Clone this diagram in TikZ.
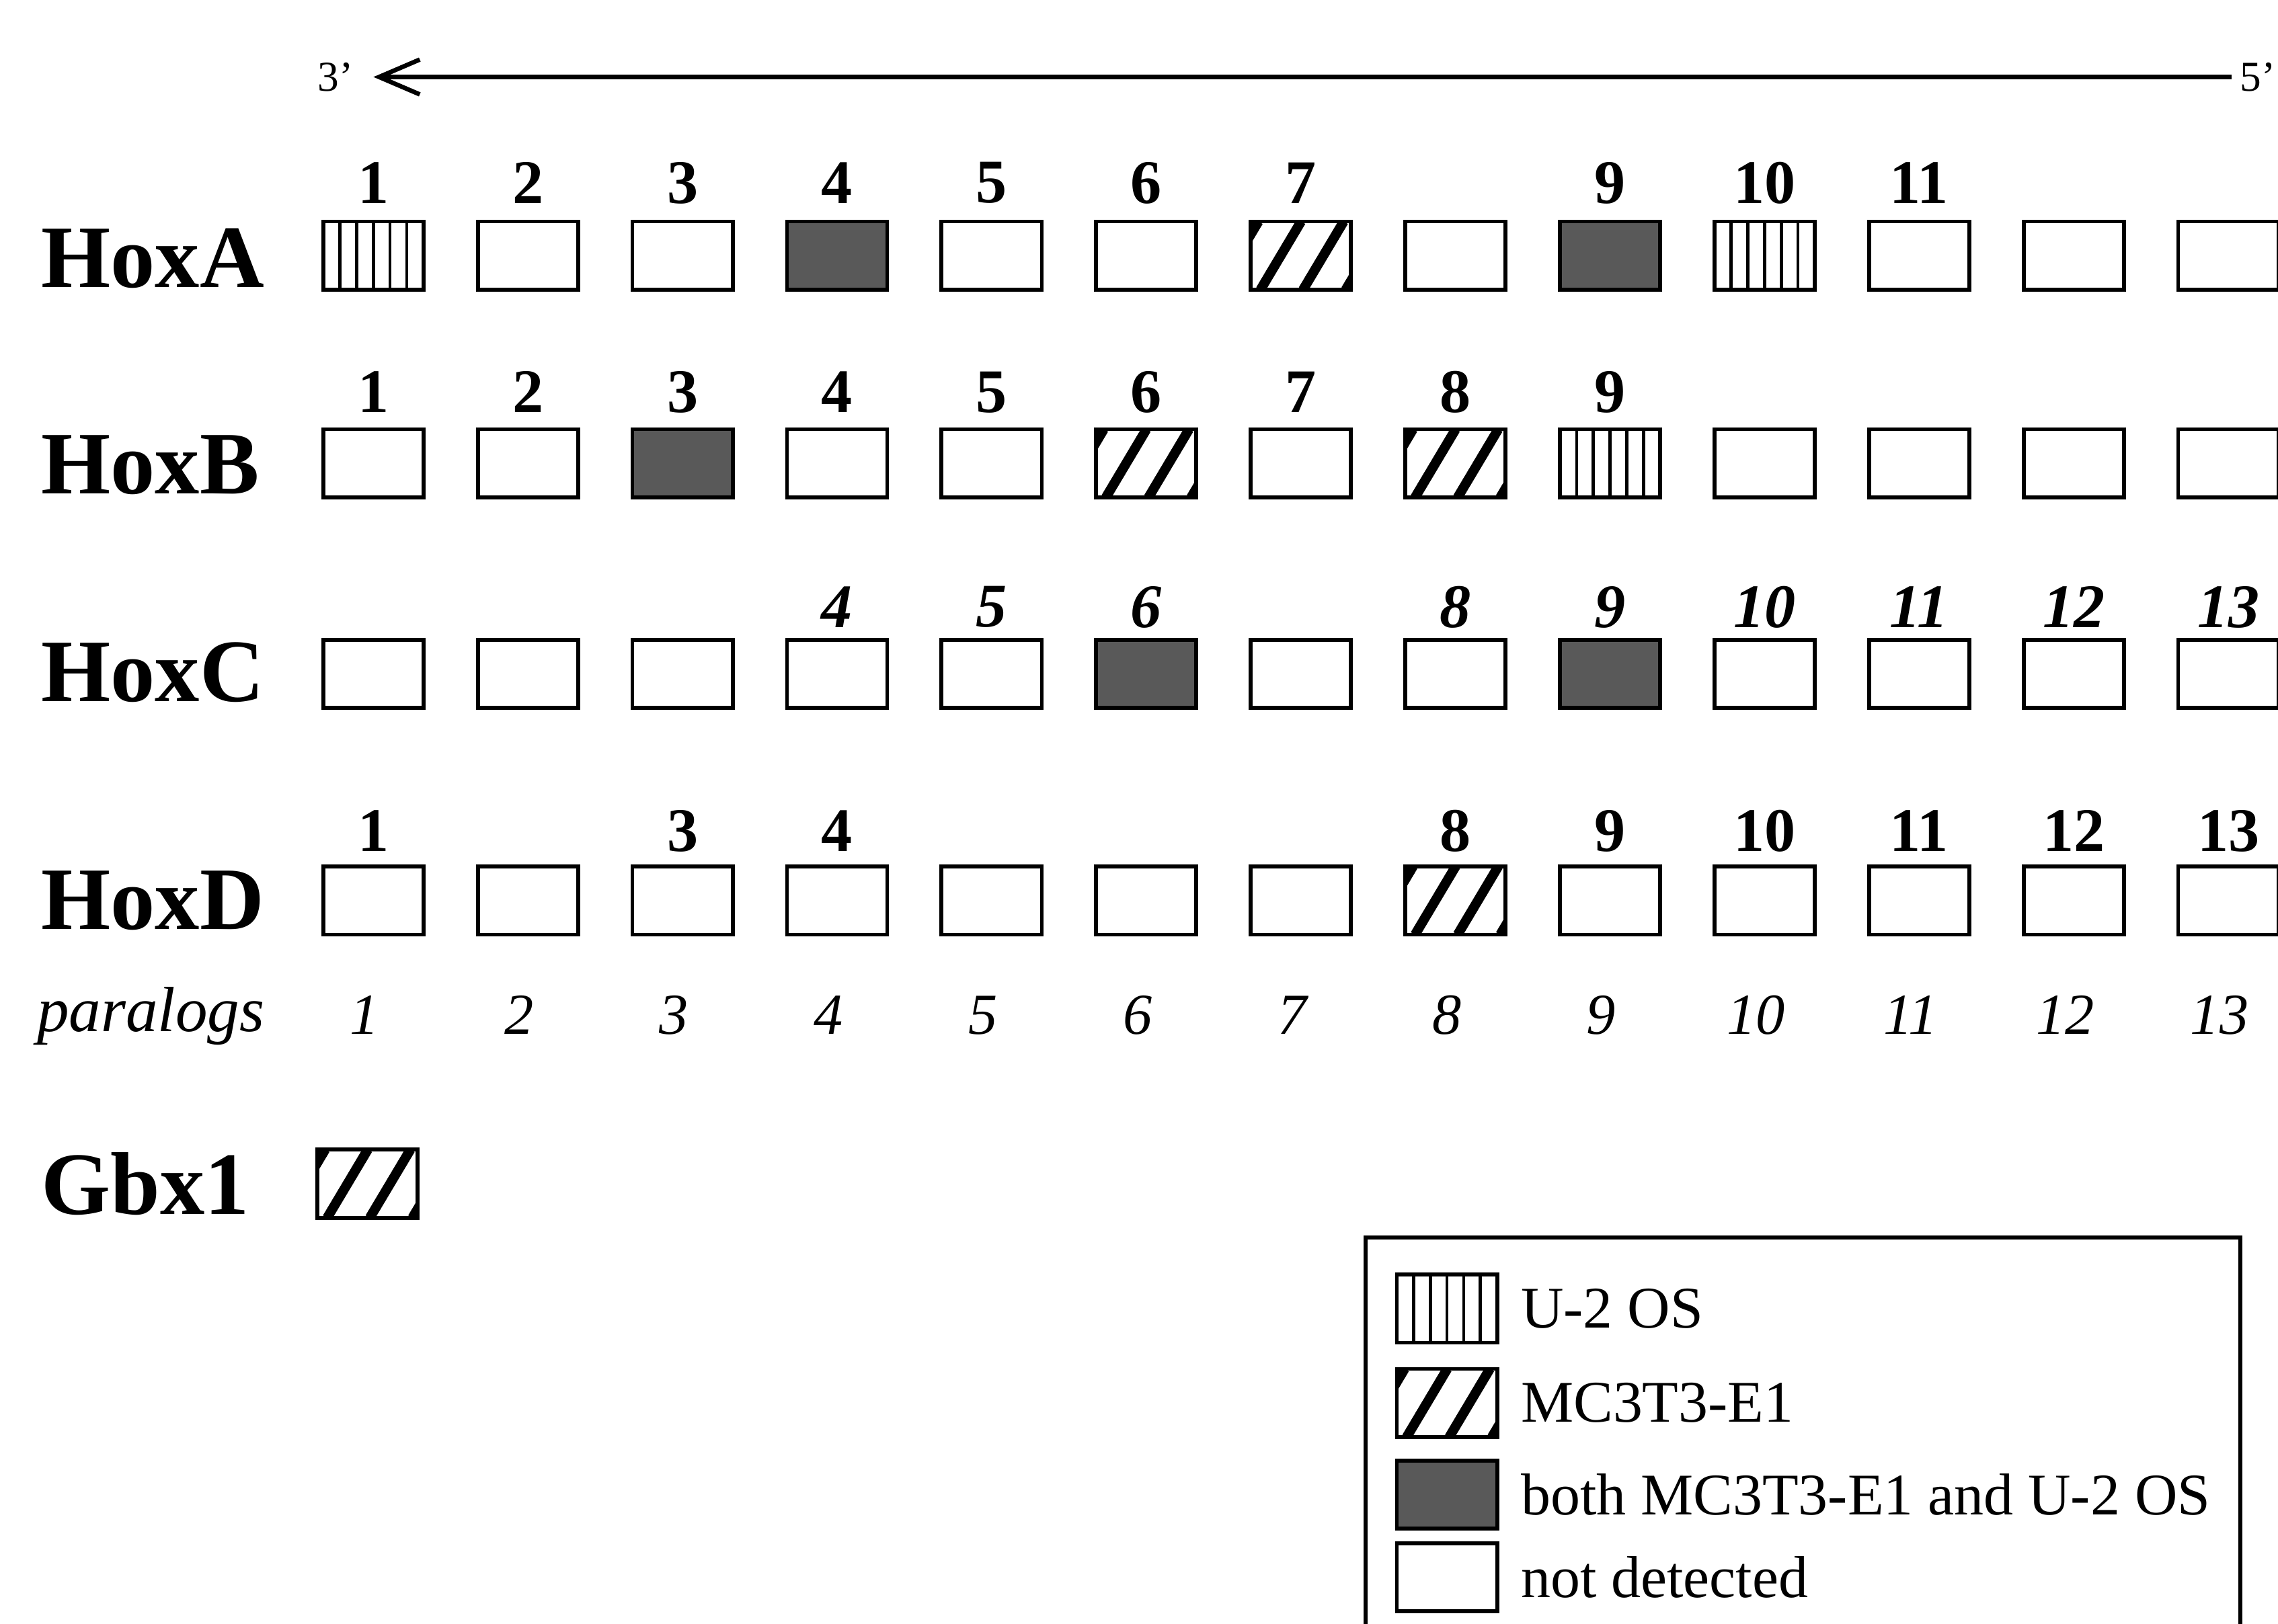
\documentclass[tikz,border=0pt]{standalone}
\usepackage{fontspec}
\setmainfont{Liberation Serif}
\usetikzlibrary{arrows.meta,positioning}

\tikzset{every picture/.style={line width=0.75pt}}
\tikzset{
  gND/.style={draw, line width=2pt, fill=white, minimum width=51.75pt, minimum height=35.25pt, inner sep=0pt},
  gUOS/.style={gND, path picture={\foreach \k in {1,...,5} \draw[line width=1.6pt] ([xshift=\k*8.625pt]path picture bounding box.south west) -- ([xshift=\k*8.625pt]path picture bounding box.north west);}},
  gMC/.style={gND, path picture={\foreach \k in {-17,5,27,49} \draw[line width=5pt] ([xshift={\k*1pt}]path picture bounding box.south west) -- ([xshift={(\k+21)*1pt}]path picture bounding box.north west);}},
  gBoth/.style={gND, fill=black!65},
  genelab/.style={font=\fontsize{46}{46}\selectfont\bfseries, anchor=west, inner sep=0pt},
  numlab/.style={font=\fontsize{32}{32}\selectfont\bfseries, inner sep=0pt},
  numlabit/.style={numlab, font=\fontsize{32}{32}\selectfont\bfseries\itshape},
  parlab/.style={font=\fontsize{30}{30}\selectfont\itshape, inner sep=0pt, anchor=base},
  leglab/.style={font=\fontsize{30.5}{30.5}\selectfont, inner sep=0pt, anchor=west},
  endlab/.style={font=\fontsize{22}{22}\selectfont, inner sep=0pt}
}

\begin{document}
\begin{tikzpicture}[x=0.75pt,y=0.75pt,yscale=-1,xscale=1]
\useasboundingbox (0,0) rectangle (1568,1118);

% 3' <- 5' direction
\node[endlab] (three) at (231,53) {3'};
\node[endlab, anchor=east] (five) at (1567,53) {5'};
\draw[line width=2.3pt, -{Straight Barb[length=21pt,width=18pt]}, shorten <=4pt, shorten >=10pt] (five.west) -- (three.east);

% HoxA
\node[genelab] (HoxA) at (28,178) {HoxA};
\foreach \t [count=\i] in {gUOS,gND,gND,gBoth,gND,gND,gMC,gND,gBoth,gUOS,gND,gND,gND}
  \node[\t] (A\i) at ({257+106.4*(\i-1)},176) {};
\foreach \n in {1,2,3,4,5,6,7,9,10,11}
  \node[numlab] (nA\n) at ({257+106.4*(\n-1)},126) {\n};

% HoxB
\node[genelab] (HoxB) at (28,320) {HoxB};
\foreach \t [count=\i] in {gND,gND,gBoth,gND,gND,gMC,gND,gMC,gUOS,gND,gND,gND,gND}
  \node[\t] (B\i) at ({257+106.4*(\i-1)},319) {};
\foreach \n in {1,...,9}
  \node[numlab] (nB\n) at ({257+106.4*(\n-1)},270) {\n};

% HoxC
\node[genelab] (HoxC) at (28,463) {HoxC};
\foreach \t [count=\i] in {gND,gND,gND,gND,gND,gBoth,gND,gND,gBoth,gND,gND,gND,gND}
  \node[\t] (C\i) at ({257+106.4*(\i-1)},464) {};
\foreach \n in {4,5,6,8,9,10,11,12,13}
  \node[numlabit] (nC\n) at ({257+106.4*(\n-1)},418) {\n};

% HoxD
\node[genelab] (HoxD) at (28,620) {HoxD};
\foreach \t [count=\i] in {gND,gND,gND,gND,gND,gND,gND,gMC,gND,gND,gND,gND,gND}
  \node[\t] (D\i) at ({257+106.4*(\i-1)},620) {};
\foreach \n in {1,3,4,8,9,10,11,12,13}
  \node[numlab] (nD\n) at ({257+106.4*(\n-1)},572) {\n};

% paralog groups
\node[parlab, anchor=base west, font=\fontsize{33}{33}\selectfont\itshape] (par) at (25,710) {paralogs};
\foreach \n in {1,...,13}
  \node[parlab] (p\n) at ({251+106.4*(\n-1)},712) {\n};

% Gbx1
\node[genelab] (Gbx1) at (28,815) {Gbx1};
\node[gMC] (G1) at (253,815) {};

% legend
\draw[line width=2pt] (940,1118) -- (940,852) -- (1542,852) -- (1542,1118);
\node[gUOS] (kUOS) at (996,901) {};
\node[leglab, right=11pt of kUOS] {U-2 OS};
\node[gMC] (kMC) at (996,966) {};
\node[leglab, right=11pt of kMC] {MC3T3-E1};
\node[gBoth] (kBoth) at (996,1029) {};
\node[leglab, right=11pt of kBoth] {both MC3T3-E1 and U-2 OS};
\node[gND] (kND) at (996,1086) {};
\node[leglab, right=11pt of kND] {not detected};

\end{tikzpicture}
\end{document}
